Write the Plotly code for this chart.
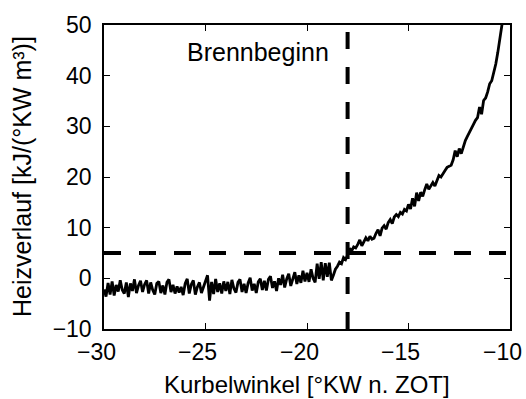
import numpy as np
import plotly.graph_objects as go

# Crank-angle grid: -30.0 ... -10.3 °KW in 0.1° steps
angle_start = -30.0
angle_step = 0.1

# Heat release rate [kJ/(°KW m³)], one row per degree of crank angle
heat_release = [
    -2.2, -3.6, -0.9, -3.2, -0.6, -3.4, -1.3, -2.6, -0.4, -2.3,   # -30
    -3.0, -0.8, -3.7, -1.0, -2.5, -0.2, -2.9, -1.4, -0.5, -2.7,   # -29
    -1.2, -0.4, -3.0, -0.8, -2.3, -3.2, -1.0, -0.6, -2.9, -1.4,   # -28
    -3.2, -0.8, -0.2, -2.7, -1.3, -3.0, -1.6, -2.8, -1.7, -3.3,   # -27
    -1.0, -0.1, -3.0, -1.2, -0.4, -3.2, -1.7, -0.8, -2.9, -1.8,   # -26
    -0.4, 0.6, -4.4, -0.7, -3.1, -0.1, -2.7, -1.0, -3.0, -0.6,    # -25
    -2.5, -0.7, -3.1, -0.3, -2.0, -2.8, -0.8, -0.2, -2.7, -1.1,   # -24
    -2.9, -0.9, 0.1, -2.4, -1.1, -2.9, -0.7, -0.1, -2.3, -0.5,    # -23
    -2.4, -0.2, 0.4, -1.9, -0.6, -2.5, 0.0, -1.3, 0.7, -1.8,      # -22
    -0.1, 0.9, -1.5, 0.1, 1.2, -1.1, 0.6, -0.9, 1.5, -0.6,        # -21
    1.1, -0.7, 1.8, 0.0, -0.8, 2.9, -0.1, 3.2, -0.4, 3.0,         # -20
    0.3, 3.1, -0.4, 0.6, 1.8, 2.4, 3.2, 2.9, 4.1, 3.7,            # -19
    4.6, 5.9, 5.4, 6.2, 6.0, 6.7, 7.6, 6.4, 7.1, 8.0,             # -18
    7.4, 8.3, 7.7, 7.9, 8.9, 9.6, 8.4, 9.9, 10.4, 9.7,            # -17
    11.0, 11.6, 10.8, 12.1, 12.6, 12.2, 13.0, 12.7, 13.6, 13.3,   # -16
    14.6, 13.7, 15.8, 14.2, 16.9, 15.3, 17.0, 16.2, 17.5, 18.6,   # -15
    17.6, 18.4, 18.9, 18.2, 19.5, 20.3, 20.0, 20.8, 21.3, 21.9,   # -14
    22.1, 22.3, 23.4, 25.2, 24.0, 25.6, 24.6, 26.1, 27.2, 28.0,   # -13
    28.7, 29.6, 30.4, 31.2, 31.7, 33.8, 32.4, 35.1, 35.6, 36.8,   # -12
    38.4, 39.0, 40.6, 42.3, 44.6, 47.2, 49.8, 52.6,               # -11
]
crank_angle = np.round(angle_start + angle_step * np.arange(len(heat_release)), 1)

# Start of combustion marker and threshold level
soc_angle = -18.0
soc_threshold = 5.0
soc_label = "Brennbeginn"

x_ticks = [-30, -25, -20, -15, -10]
x_tick_text = ["\u221230", "\u221225", "\u221220", "\u221215", "\u221210"]
y_ticks = [-10, 0, 10, 20, 30, 40, 50]
x_range = [-30, -10]
y_range = [-10, 50]

FONT = "Liberation Sans, Arial, Helvetica, sans-serif"

fig = go.Figure()

fig.add_trace(go.Scatter(
    x=crank_angle, y=heat_release, mode="lines",
    line=dict(color="black", width=2.8), showlegend=False, hoverinfo="skip",
))

# dashed threshold line and dashed start-of-combustion line
fig.add_trace(go.Scatter(
    x=x_range, y=[soc_threshold, soc_threshold], mode="lines",
    line=dict(color="black", width=4, dash="17px,18px"),
    showlegend=False, hoverinfo="skip",
))
fig.add_trace(go.Scatter(
    x=[soc_angle, soc_angle], y=y_range, mode="lines",
    line=dict(color="black", width=4, dash="17px,18px"),
    showlegend=False, hoverinfo="skip",
))

axis_common = dict(
    showgrid=False, zeroline=False, showline=True, linecolor="black",
    linewidth=1.5, mirror="ticks", ticks="inside", ticklen=6,
    tickcolor="black", tickwidth=1,
    tickfont=dict(family=FONT, size=23, color="black"),
)

# x tick labels are drawn as annotations (slightly left of each tick)
fig.update_xaxes(range=x_range, tickvals=x_ticks, showticklabels=False,
                 **axis_common)
fig.update_yaxes(range=[y_range[0] - 1e-6, y_range[1] + 1e-6],
                 tickvals=y_ticks, ticklabelstandoff=6, **axis_common)

for xv, txt in zip(x_ticks, x_tick_text):
    fig.add_annotation(
        x=xv, y=0, xref="x", yref="paper", text=txt, showarrow=False,
        xanchor="center", yanchor="top", xshift=-8, yshift=-8,
        font=dict(family=FONT, size=23, color="black"),
    )

fig.add_annotation(
    x=soc_angle, y=44.6, xref="x", yref="y", text=soc_label,
    showarrow=False, xanchor="right", yanchor="middle", xshift=-17,
    font=dict(family=FONT, size=25, color="black"),
)
fig.add_annotation(
    x=0.5, y=0, xref="paper", yref="paper", text="Kurbelwinkel [°KW n. ZOT]",
    showarrow=False, xanchor="center", yanchor="top", yshift=-40,
    font=dict(family=FONT, size=24, color="black"),
)
fig.add_annotation(
    x=0, y=0.5, xref="paper", yref="paper", text="Heizverlauf [kJ/(°KW m³)]",
    showarrow=False, xanchor="center", yanchor="middle", textangle=-90,
    xshift=-82,
    font=dict(family=FONT, size=25, color="black"),
)

fig.update_layout(
    width=526, height=399,
    margin=dict(l=104, r=16, t=20, b=70),
    paper_bgcolor="white", plot_bgcolor="white",
    font=dict(family=FONT, color="black"),
)

fig.write_html("out.html")
